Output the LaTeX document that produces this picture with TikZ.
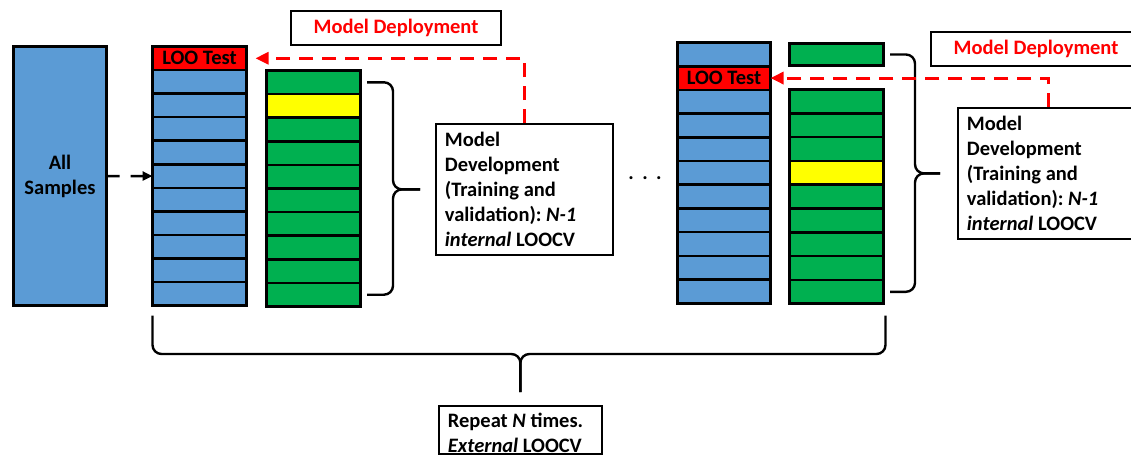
\documentclass[tikz,border=0pt]{standalone}
\usepackage{fontspec}
\setmainfont{Carlito}
\usetikzlibrary{arrows.meta}
\definecolor{sampleblue}{HTML}{5B9BD5}
\definecolor{traingreen}{HTML}{00B050}
\definecolor{valyellow}{HTML}{FFFF00}

\begin{document}
\begin{tikzpicture}[x=1pt, y=-1pt,
  font=\fontsize{20.5pt}{25pt}\selectfont\bfseries\frenchspacing,
  strip/.style={draw, line width=2.6pt, inner sep=0pt, outer sep=0pt, anchor=north west},
  textbox/.style={draw, line width=1.8pt, align=flush left, anchor=north west, inner xsep=9pt},
  curly/.style={line width=2.4pt, rounded corners=9pt},
  deploy/.style={red, line width=3pt, dash pattern=on 14pt off 9pt,
    -{Triangle[length=13pt,width=12pt]}}]
\useasboundingbox (0,0) rectangle (1131,464);
\clip (0,0) rectangle (1131,464);
% all samples
\node[strip, fill=sampleblue, minimum width=93, minimum height=259, align=center]
  (all) at (13.5,46.5) {All\\Samples};
% first split
\node[strip, fill=red, minimum width=94, minimum height=23.55] (loo1) at (152.5,46.5) {LOO Test};
\foreach \i in {1,...,10}
  \node[strip, fill=sampleblue, minimum width=94, minimum height=23.55]
    (b1-\i) at (152.5,46.5+23.55*\i) {};
\foreach \i in {1,...,10} {
  \ifnum\i=2 \def\c{valyellow}\else\def\c{traingreen}\fi
  \node[strip, fill=\c, minimum width=94, minimum height=23.6]
    (g1-\i) at (266.5,70.5+23.6*\i-23.6) {};
}
\draw[line width=2.5pt, dash pattern=on 13pt off 11pt, -{Triangle[length=10pt,width=9pt]}]
  (all.east) -- (b1-5.west);
\node[textbox, text width=159, minimum height=131] (md1) at (435,123)
  {\spaceskip=0pt Model\\Development\\(Training and\\validation): \textit{N-1}\\\textit{internal} LOOCV};
\coordinate (tip1) at ([xshift=-15pt]md1.west);
\draw[curly] ([xshift=6.5pt]g1-1.east) -| ([xshift=-27pt]tip1) -- (tip1);
\draw[curly] ([xshift=6.5pt]g1-10.east) -| ([xshift=-27pt]tip1) -- (tip1);
\node[draw, line width=1.8pt, text=red, minimum width=210, minimum height=34] (dep1) at (396,28) {Model Deployment};
\draw[deploy, shorten >=9pt] (md1.north) |- (loo1.east);
% dots
\node[anchor=base] (dots) at (645,179.5) {.\hspace{8.5pt}.\hspace{8.5pt}.};
% last split
\foreach \i in {1,...,11} {
  \ifnum\i=2 \def\c{red}\else\def\c{sampleblue}\fi
  \node[strip, fill=\c, minimum width=93, minimum height=23.7]
    (b2-\i) at (677.5,42.5+23.7*\i-23.7) {};
}
\node at (b2-2) (loo2) {LOO Test};
\node[strip, fill=traingreen, minimum width=94, minimum height=22] (g2-0) at (789.5,43.5) {};
\foreach \i in {1,...,9} {
  \ifnum\i=4 \def\c{valyellow}\else\def\c{traingreen}\fi
  \node[strip, fill=\c, minimum width=94, minimum height=23.8]
    (g2-\i) at (789.5,89.5+23.8*\i-23.8) {};
}
\node[textbox, text width=175, minimum height=131] (md2) at (957,107)
  {\spaceskip=0pt Model\\Development\\(Training and\\validation): \textit{N-1}\\\textit{internal} LOOCV};
\coordinate (tip2) at ([xshift=-17pt]md2.west);
\draw[curly] ([xshift=6.5pt]g2-0.east) -| ([xshift=-25pt]tip2) -- (tip2);
\draw[curly] ([xshift=6.5pt]g2-9.east) -| ([xshift=-25pt]tip2) -- (tip2);
\node[draw, line width=1.8pt, text=red, minimum width=210, minimum height=34] (dep2) at (1036,49) {Model Deployment};
\draw[deploy] ([xshift=-6pt]md2.north) |- (b2-2.east);
% repeat
\node[textbox, text width=145, inner ysep=7pt, text depth=20pt] (rep) at (438,405)
  {\spaceskip=0pt\xspaceskip=0pt Repeat \textit{N} times.\\\textit{External} LOOCV};
\coordinate (tip3) at ([yshift=13pt]rep.north);
\draw[curly] ([yshift=-10pt]b1-10.south west) |- ([yshift=38pt]tip3) -- (tip3);
\draw[curly] ([xshift=2pt,yshift=-12pt]g2-9.south east) |- ([yshift=38pt]tip3) -- (tip3);
\end{tikzpicture}
\end{document}
